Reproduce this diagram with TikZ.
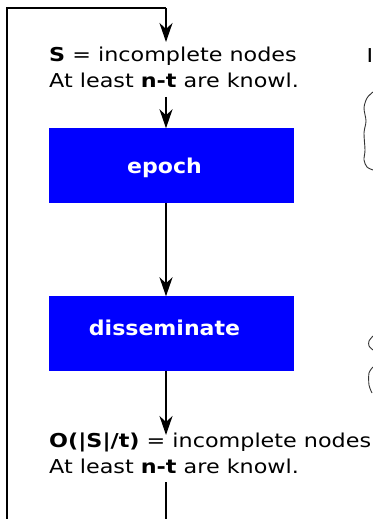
\documentclass[tikz,border=0pt]{standalone}
\usepackage{graphicx}
\usepackage{fontspec}
\setmainfont{DejaVu Sans}
\usetikzlibrary{arrows.meta}
\newcommand{\wideA}[1]{\scalebox{1.165}[1]{#1}}
\newcommand{\wideB}[1]{\scalebox{1.08}[1]{#1}\hspace*{13bp}}
\begin{document}
\begin{tikzpicture}[x=1bp,y=-1bp,
  line/.style={line width=2.3bp},
  arr/.style={line width=2.3bp,-{Stealth[length=19bp,width=13bp,inset=6bp]}},
  box/.style={fill=blue, draw=blue, text=white, font=\bfseries\fontsize{20.5}{24}\selectfont, minimum width=244bp, minimum height=74bp, inner sep=0},
  txt/.style={font=\fontsize{19.2}{25}\selectfont, inner sep=0, anchor=base west},
  brace/.style={line width=0.9bp, draw=black!80}]
\useasboundingbox (0,0) rectangle (372,519);
\node[box, text height=15.6bp, text depth=0bp] (epoch) at (171,165.5) {\wideB{epoch}};
\node[box, text height=10bp, text depth=7bp] (dis) at (171,333.5) {\wideB{disseminate}};
\node[txt] (s1) at (49,62) {\wideA{\textbf{S} = incomplete nodes}};
\node[txt] (s2) at (49,88) {\wideA{At least \textbf{n-t} are knowl.}};
\node[txt] (o1) at (49,447) {\wideA{\textbf{O(|S|/t)} = incomplete nodes}};
\node[txt] (o2) at (49,473) {\wideA{At least \textbf{n-t} are knowl.}};
\node[txt] (i1) at (366.5,63) {\wideA{I}};
\coordinate (bl) at (7,521);
\coordinate (tl) at (7,8);
\coordinate (tr) at (166,8);
\coordinate (in1) at (166,42);
\coordinate (out1) at (166,97);
\coordinate (in2) at (166,435);
\coordinate (out2) at (166,482);
\coordinate (bm) at (166,521);
\draw[line] (bl) -- (tl) -- (tr);
\draw[arr] (tr) -- (in1);
\draw[arr] (out1) -- (out1 |- epoch.north);
\draw[arr] (epoch.south -| out1) -- (dis.north -| out1);
\draw[arr] (dis.south -| out1) -- (in2);
\draw[line] (out2) -- (bm);
\draw[brace] plot[smooth] coordinates {(373,92) (367,98) (364,108) (366,121) (364,133) (365,150) (364,160) (367,167) (373,170)};
\draw[brace] plot[smooth] coordinates {(373,336) (369,341) (369,346) (373,350)};
\draw[brace] plot[smooth] coordinates {(373,367) (369,373) (369,385) (372,393)};
\end{tikzpicture}
\end{document}
